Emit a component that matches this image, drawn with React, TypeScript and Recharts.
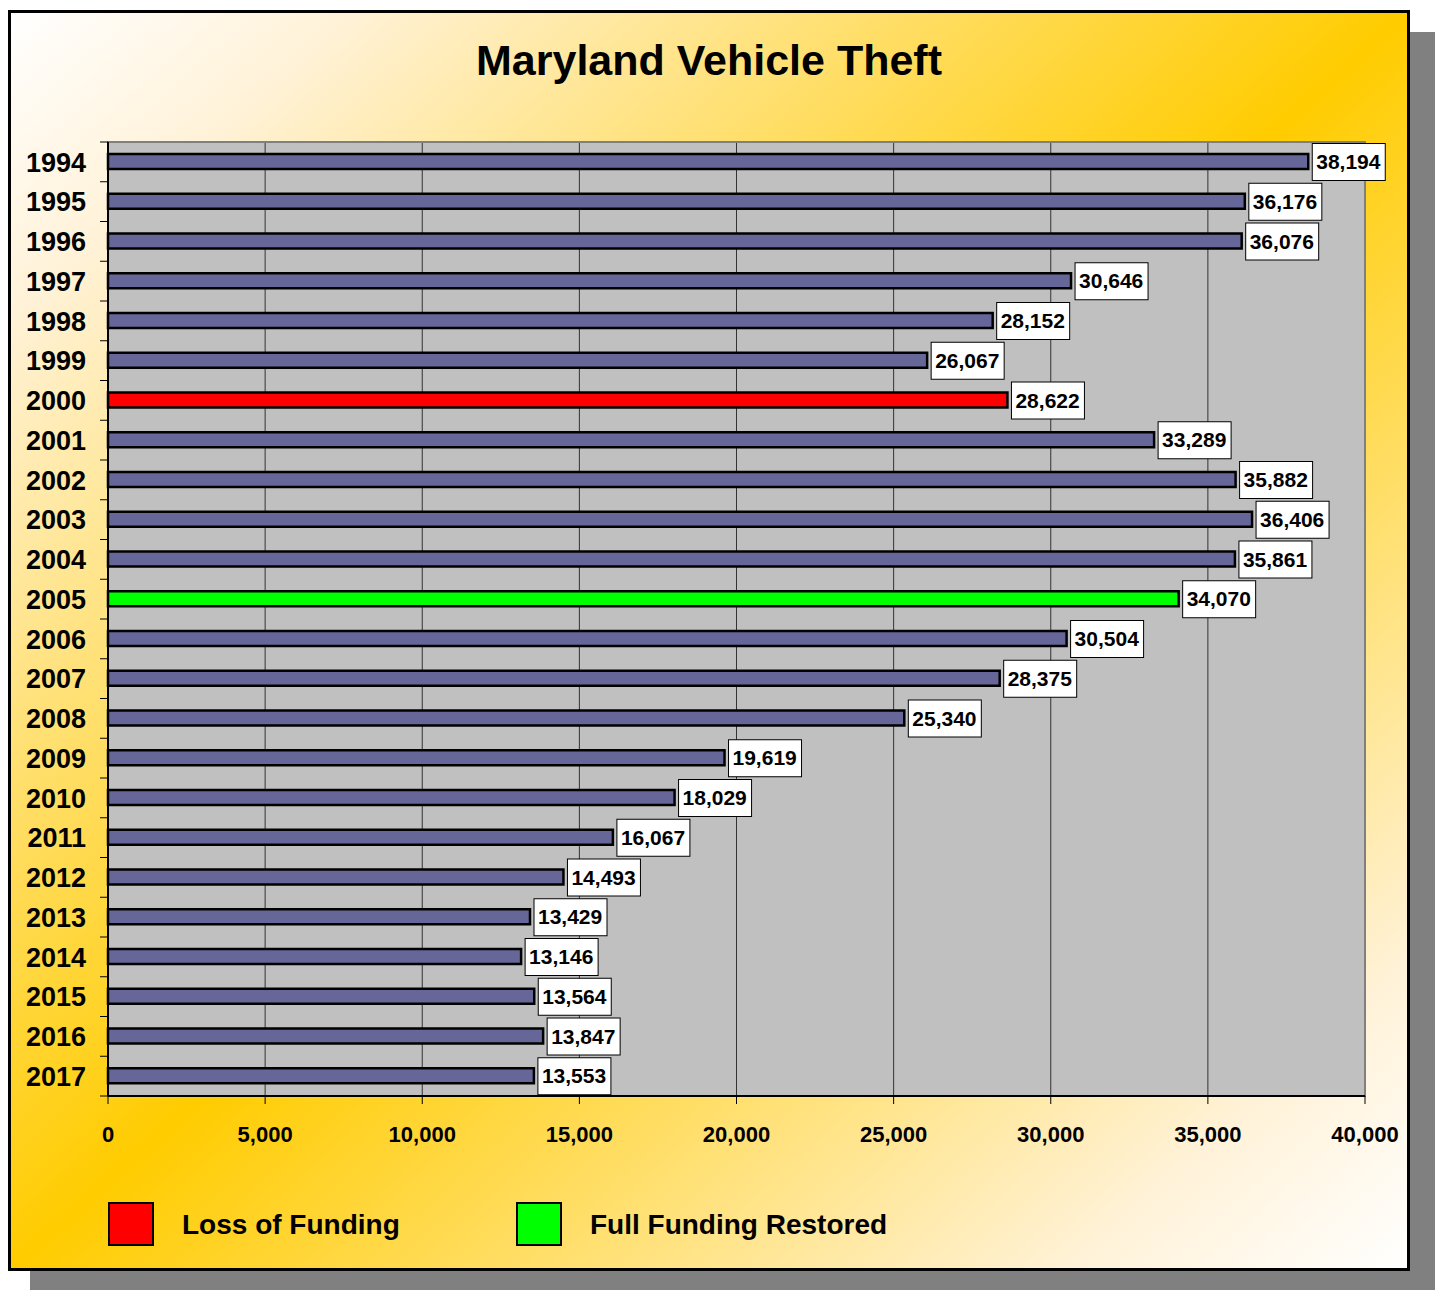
import React from "react";
import {
  BarChart,
  Bar,
  XAxis,
  YAxis,
  CartesianGrid,
  Cell,
  LabelList,
  ReferenceArea,
} from "recharts";

const years = [
  "1994", "1995", "1996", "1997", "1998", "1999", "2000", "2001",
  "2002", "2003", "2004", "2005", "2006", "2007", "2008", "2009",
  "2010", "2011", "2012", "2013", "2014", "2015", "2016", "2017",
];

const thefts = [
  38194, 36176, 36076, 30646, 28152, 26067, 28622, 33289,
  35882, 36406, 35861, 34070, 30504, 28375, 25340, 19619,
  18029, 16067, 14493, 13429, 13146, 13564, 13847, 13553,
];

// funding status per year: "loss" = red, "restored" = green
const lossYears = ["2000"];
const restoredYears = ["2005"];

const xTicks = [0, 5000, 10000, 15000, 20000, 25000, 30000, 35000, 40000];

const legendItems = [
  { label: "Loss of Funding", color: "#FF0000" },
  { label: "Full Funding Restored", color: "#00FF00" },
];

const FONT = '"Liberation Sans", Arial, sans-serif';
const W = 1435;
const H = 1290;
const M_TOP = 142;
const M_BOTTOM = 134;
const Y_W = 108;
const BAND = (H - M_TOP - M_BOTTOM - 60) / years.length;

const data = years.map((year, i) => ({ year, value: thefts[i] }));

const barColor = (year: string) => {
  if (lossYears.includes(year)) return "#FF0000";
  if (restoredYears.includes(year)) return "#00FF00";
  return "#666699";
};

const fmt = (v: number) => v.toLocaleString("en-US");

const YearTick = (props: any) => {
  const { y, payload, index } = props;
  const top = y - BAND / 2;
  return (
    <g>
      <line x1={Y_W - 8} x2={Y_W} y1={top} y2={top} stroke="#000" />
      {index === years.length - 1 && (
        <line x1={Y_W - 8} x2={Y_W} y1={top + BAND} y2={top + BAND} stroke="#000" />
      )}
      <text
        x={86}
        y={y}
        dy="0.36em"
        textAnchor="end"
        fontFamily={FONT}
        fontWeight="bold"
        fontSize={27}
        fill="#000"
      >
        {payload.value}
      </text>
    </g>
  );
};

const ValueLabel = (props: any) => {
  const { x, y, width, height, value } = props;
  const bx = x + width + 4;
  const cy = y + height / 2;
  return (
    <g>
      <rect x={bx} y={cy - 18} width={73} height={37} fill="#fff" stroke="#000" strokeWidth={1} />
      <text
        x={bx + 4}
        y={cy}
        dy="0.36em"
        fontFamily={FONT}
        fontWeight="bold"
        fontSize={21}
        fill="#000"
      >
        {fmt(value)}
      </text>
    </g>
  );
};

export default function App() {
  return (
    <div style={{ position: "absolute", left: 0, top: 0, width: W, height: H, fontFamily: FONT }}>
      <div style={{ position: "absolute", left: 30, top: 32, width: 1405, height: 1258, background: "#808080" }} />
      <div
        style={{
          position: "absolute",
          left: 8,
          top: 10,
          width: 1396,
          height: 1255,
          border: "3px solid #000",
          background: "linear-gradient(to bottom right, #FFFFFF 0%, #FFF2D8 12%, #FFCC00 50%, #FFF2D8 88%, #FFFFFF 100%)",
        }}
      />
      <div
        style={{
          position: "absolute",
          left: 8,
          top: 39,
          width: 1402,
          textAlign: "center",
          fontSize: 43,
          lineHeight: "43px",
          fontWeight: "bold",
          color: "#000",
        }}
      >
        Maryland Vehicle Theft
      </div>
      <div style={{ position: "absolute", left: 0, top: 0 }}>
        <BarChart
          width={W}
          height={H}
          layout="vertical"
          data={data}
          margin={{ top: M_TOP, right: 70, bottom: M_BOTTOM, left: 0 }}
        >
          <CartesianGrid horizontal={false} stroke="#333" fill="#C0C0C0" />
          <ReferenceArea x1={0} x2={40000} fill="none" stroke="#808080" strokeWidth={2} />
          <XAxis
            type="number"
            domain={[0, 40000]}
            ticks={xTicks}
            tickFormatter={fmt}
            height={60}
            tickSize={8}
            tickMargin={22}
            axisLine={{ stroke: "#000", strokeWidth: 2 }}
            tickLine={{ stroke: "#000" }}
            tick={{ fontFamily: FONT, fontWeight: "bold", fontSize: 22, fill: "#000" }}
          />
          <YAxis
            type="category"
            dataKey="year"
            width={Y_W}
            interval={0}
            tickLine={false}
            axisLine={{ stroke: "#000", strokeWidth: 2 }}
            tick={<YearTick />}
          />
          <Bar dataKey="value" barSize={15} stroke="#000" strokeWidth={2.5} isAnimationActive={false}>
            {data.map((d) => (
              <Cell key={d.year} fill={barColor(d.year)} />
            ))}
            <LabelList dataKey="value" content={<ValueLabel />} />
          </Bar>
        </BarChart>
      </div>
      {legendItems.map((item, i) => (
        <div key={item.label} style={{ position: "absolute", left: 108 + i * 408, top: 1202 }}>
          <div
            style={{
              position: "absolute",
              left: 0,
              top: 0,
              width: 42,
              height: 40,
              background: item.color,
              border: "2px solid #000",
            }}
          />
          <div
            style={{
              position: "absolute",
              left: 74,
              top: 9,
              whiteSpace: "nowrap",
              fontSize: 28,
              lineHeight: "27px",
              fontWeight: "bold",
              color: "#000",
            }}
          >
            {item.label}
          </div>
        </div>
      ))}
    </div>
  );
}
